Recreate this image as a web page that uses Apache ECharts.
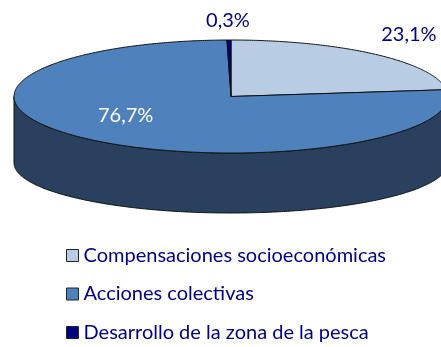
<!DOCTYPE html>
<html><head><meta charset="utf-8">
<style>html,body{margin:0;padding:0;background:#fff}#c{width:441px;height:347px}</style>
<script src="https://cdn.jsdelivr.net/npm/echarts@6/dist/echarts.min.js"></script>
</head><body><div id="c"></div>
<script>
const categories = ['Compensaciones socioeconómicas', 'Acciones colectivas', 'Desarrollo de la zona de la pesca'];
const values = [23.1, 76.7, 0.3];
const labels = ['23,1%', '76,7%', '0,3%'];
const colors = ['#b8cce4', '#4f81bd', '#000080'];
const wallColors = ['#8a9cb0', '#29405f', '#000050'];
const labelColors = ['#000080', '#ffffff', '#000080'];

// layout of the tilted disc
const top_ = {cx: 231, cy: 96.5, rx: 217, ry: 56.5};
const bottom_ = {cx: 231, cy: 163, rx: 217, ry: 50};
const labelOffsets = [[34, -20], [37, -24], [-1, -19]];
const font = 'Lato, "Open Sans", sans-serif';

const total = values.reduce((a, b) => a + b, 0);
const starts = values.map((_, i) => values.slice(0, i).reduce((a, b) => a + b, 0) / total * 360);

function pt(e, deg) {
  const r = deg * Math.PI / 180;
  return [e.cx + e.rx * Math.sin(r), e.cy - e.ry * Math.cos(r)];
}
function arc(e, a, b) {
  const n = Math.max(2, Math.ceil(Math.abs(b - a) / 0.5));
  const out = [];
  for (let i = 0; i <= n; i++) out.push(pt(e, a + (b - a) * i / n));
  return out;
}

function renderSlice(params, api) {
  const i = params.seriesIndex;
  const a = starts[i];
  const b = a + api.value(0) / total * 360;
  const children = [];
  const wa = Math.max(a, 90), wb = Math.min(b, 270);
  if (wb > wa) {
    children.push({
      type: 'polygon',
      shape: {points: arc(top_, wa, wb).concat(arc(bottom_, wa, wb).reverse())},
      style: {fill: wallColors[i], stroke: '#111', lineWidth: 1}
    });
  }
  children.push({
    type: 'polygon',
    shape: {points: [[top_.cx, top_.cy]].concat(arc(top_, a, b))},
    style: {fill: colors[i], stroke: '#111', lineWidth: 1}
  });
  const mid = pt(top_, (a + b) / 2);
  children.push({
    type: 'text',
    z2: 10,
    style: {
      x: mid[0] + labelOffsets[i][0], y: mid[1] + labelOffsets[i][1],
      text: labels[i], fill: labelColors[i],
      font: '20px ' + font, align: 'center', verticalAlign: 'middle'
    }
  });
  return {type: 'group', children};
}

const chart = echarts.init(document.getElementById('c'), null, {renderer: 'canvas'});
chart.setOption({
  animation: false,
  backgroundColor: '#fff',
  legend: {
    orient: 'vertical', left: 61, top: 240, height: 105, padding: 5,
    icon: 'rect', itemWidth: 12, itemHeight: 12, itemGap: 17.5,
    selectedMode: false,
    itemStyle: {borderColor: '#222', borderWidth: 1},
    textStyle: {color: '#000080', fontSize: 20, fontFamily: font, height: 21, lineHeight: 21},
    data: categories
  },
  series: categories.map((name, i) => ({
    type: 'custom',
    name,
    coordinateSystem: 'none',
    itemStyle: {color: colors[i]},
    renderItem: renderSlice,
    data: [[values[i]]]
  }))
});
</script></body></html>
